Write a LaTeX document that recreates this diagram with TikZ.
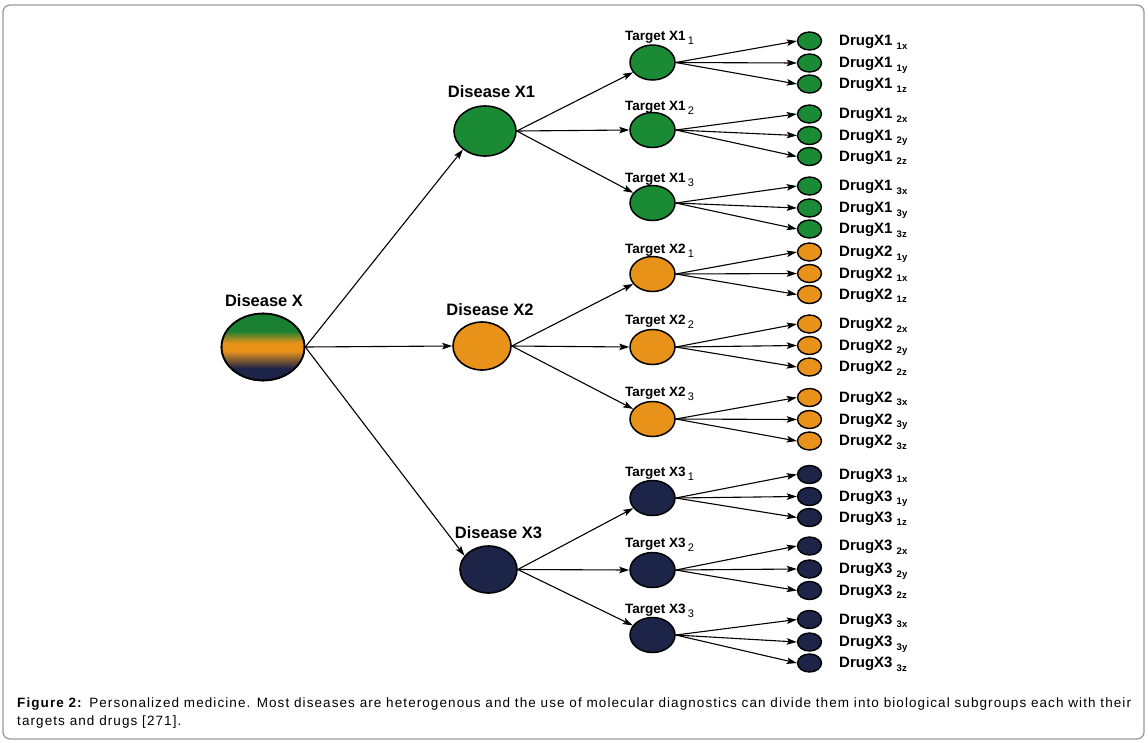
\documentclass[tikz,border=0pt]{standalone}
\usepackage{fontspec}
\setmainfont{Liberation Sans}
\newfontfamily\capfont[LetterSpace=8]{Liberation Sans}
\usetikzlibrary{shapes.geometric,arrows.meta}
\definecolor{cgreen}{HTML}{1B8A35}
\definecolor{corange}{HTML}{E8921A}
\definecolor{cnavy}{HTML}{1C2447}
\definecolor{framegray}{HTML}{9A9A9A}
\pgfdeclareverticalshading{dxshade}{100bp}{color(0bp)=(cnavy); color(34bp)=(cnavy); color(47bp)=(corange); color(53bp)=(corange); color(62bp)=(cgreen!92!black); color(100bp)=(cgreen!92!black)}
\tikzset{
  dis/.style={ellipse, draw=black, line width=1.6pt, inner sep=0pt},
  tgt/.style={ellipse, draw=black, line width=1.5pt, inner sep=0pt, minimum width=45pt, minimum height=35pt},
  drg/.style={ellipse, draw=black, line width=1.4pt, inner sep=0pt, minimum width=24pt, minimum height=18pt},
  dislbl/.style={anchor=base, inner sep=0pt, font=\bfseries\fontsize{16.5}{19}\selectfont},
  tlbl/.style={anchor=base west, inner sep=0pt, font=\bfseries\fontsize{13.5}{16}\selectfont},
  dlbl/.style={anchor=base west, inner sep=0pt, font=\bfseries\fontsize{15}{18}\selectfont},
  caplbl/.style={anchor=base west, inner sep=0pt, font=\capfont\fontsize{13.5}{15}\selectfont},
  arr/.style={draw=black, line width=1.1pt, -{Stealth[length=10pt,width=6.5pt,inset=2pt]}},
}
\newcommand{\mytarget}[6]{%
  \node[tgt, fill=#3] (#1) at (652.5,#2) {};
  \node[tlbl] (#1l) at (625,#6) {Target #4\,\raisebox{-4pt}{\mdseries\fontsize{11}{12}\selectfont #5}};
}
\newcommand{\mydrug}[6]{%
  \node[drg, fill=#3] (#1) at (809.5,#2) {};
  \node[dlbl] (#1l) at (839,#2+4.8) {Drug#4\ \raisebox{-3.5pt}{\fontsize{9.5}{11}\selectfont #5}};
  \draw[arr] (#6.east) -- (#1.west);
}
\begin{document}
\begin{tikzpicture}[x=1pt,y=-1pt]
\useasboundingbox (0,0) rectangle (1148,742);
\draw[framegray, line width=1.3pt, rounded corners=7pt] (3,5) rectangle (1144,739);

% Diseases
\node[dis, shading=dxshade, minimum width=83pt, minimum height=67pt] (dx) at (263,347) {};
\draw[line width=1.6pt] (dx.center) ellipse [x radius=41.5pt, y radius=33.5pt];
\node[dislbl] (dxl) at (264,306) {Disease X};
\node[dis, fill=cgreen, minimum width=62pt, minimum height=50pt] (d1) at (485,131) {};
\node[dislbl] (d1l) at (491.5,97) {Disease X1};
\node[dis, fill=corange, minimum width=58pt, minimum height=48pt] (d2) at (482,346) {};
\node[dislbl] (d2l) at (490,315) {Disease X2};
\node[dis, fill=cnavy, minimum width=57pt, minimum height=47pt] (d3) at (488.5,569.5) {};
\node[dislbl] (d3l) at (498.5,538) {Disease X3};

\draw[arr] (dx.east) -- (d1.220);
\draw[arr] (dx.east) -- (d2.west);
\draw[arr] (dx.east) -- (d3.150);

% Targets
\mytarget{t11}{62.5}{cgreen}{X1}{1}{40}
\mytarget{t12}{130}{cgreen}{X1}{2}{110}
\mytarget{t13}{203}{cgreen}{X1}{3}{182}
\mytarget{t21}{274}{corange}{X2}{1}{253}
\mytarget{t22}{347}{corange}{X2}{2}{324}
\mytarget{t23}{419}{corange}{X2}{3}{396}
\mytarget{t31}{498}{cnavy}{X3}{1}{476}
\mytarget{t32}{570}{cnavy}{X3}{2}{547}
\mytarget{t33}{635}{cnavy}{X3}{3}{613}

\draw[arr] (d1.east) -- (t11);
\draw[arr] (d1.east) -- (t12.west);
\draw[arr] (d1.east) -- (t13);
\draw[arr] (d2.east) -- (t21);
\draw[arr] (d2.east) -- (t22.west);
\draw[arr] (d2.east) -- (t23);
\draw[arr] (d3.east) -- (t31);
\draw[arr] (d3.east) -- (t32.west);
\draw[arr] (d3.east) -- (t33);

% Drugs
\mydrug{a1}{41}{cgreen}{X1}{1x}{t11}
\mydrug{a2}{63}{cgreen}{X1}{1y}{t11}
\mydrug{a3}{84}{cgreen}{X1}{1z}{t11}
\mydrug{a4}{114}{cgreen}{X1}{2x}{t12}
\mydrug{a5}{135.5}{cgreen}{X1}{2y}{t12}
\mydrug{a6}{156.5}{cgreen}{X1}{2z}{t12}
\mydrug{a7}{186}{cgreen}{X1}{3x}{t13}
\mydrug{a8}{208}{cgreen}{X1}{3y}{t13}
\mydrug{a9}{229}{cgreen}{X1}{3z}{t13}
\mydrug{b1}{252}{corange}{X2}{1y}{t21}
\mydrug{b2}{273.5}{corange}{X2}{1x}{t21}
\mydrug{b3}{294.5}{corange}{X2}{1z}{t21}
\mydrug{b4}{324}{corange}{X2}{2x}{t22}
\mydrug{b5}{345.5}{corange}{X2}{2y}{t22}
\mydrug{b6}{367}{corange}{X2}{2z}{t22}
\mydrug{b7}{397.5}{corange}{X2}{3x}{t23}
\mydrug{b8}{419.5}{corange}{X2}{3y}{t23}
\mydrug{b9}{441}{corange}{X2}{3z}{t23}
\mydrug{c1}{474.5}{cnavy}{X3}{1x}{t31}
\mydrug{c2}{496.5}{cnavy}{X3}{1y}{t31}
\mydrug{c3}{517.5}{cnavy}{X3}{1z}{t31}
\mydrug{c4}{546}{cnavy}{X3}{2x}{t32}
\mydrug{c5}{569}{cnavy}{X3}{2y}{t32}
\mydrug{c6}{590.5}{cnavy}{X3}{2z}{t32}
\mydrug{c7}{619.5}{cnavy}{X3}{3x}{t33}
\mydrug{c8}{642}{cnavy}{X3}{3y}{t33}
\mydrug{c9}{663}{cnavy}{X3}{3z}{t33}

% Caption
\node[caplbl] (cap1) at (17,707)
  {\makebox[1114pt][s]{\textbf{Figure 2:} Personalized medicine. Most diseases are heterogenous and the use of molecular diagnostics can divide them into biological subgroups each with their}};
\node[caplbl] (cap2) at (17,725)
  {targets and drugs [271].};
\end{tikzpicture}
\end{document}
